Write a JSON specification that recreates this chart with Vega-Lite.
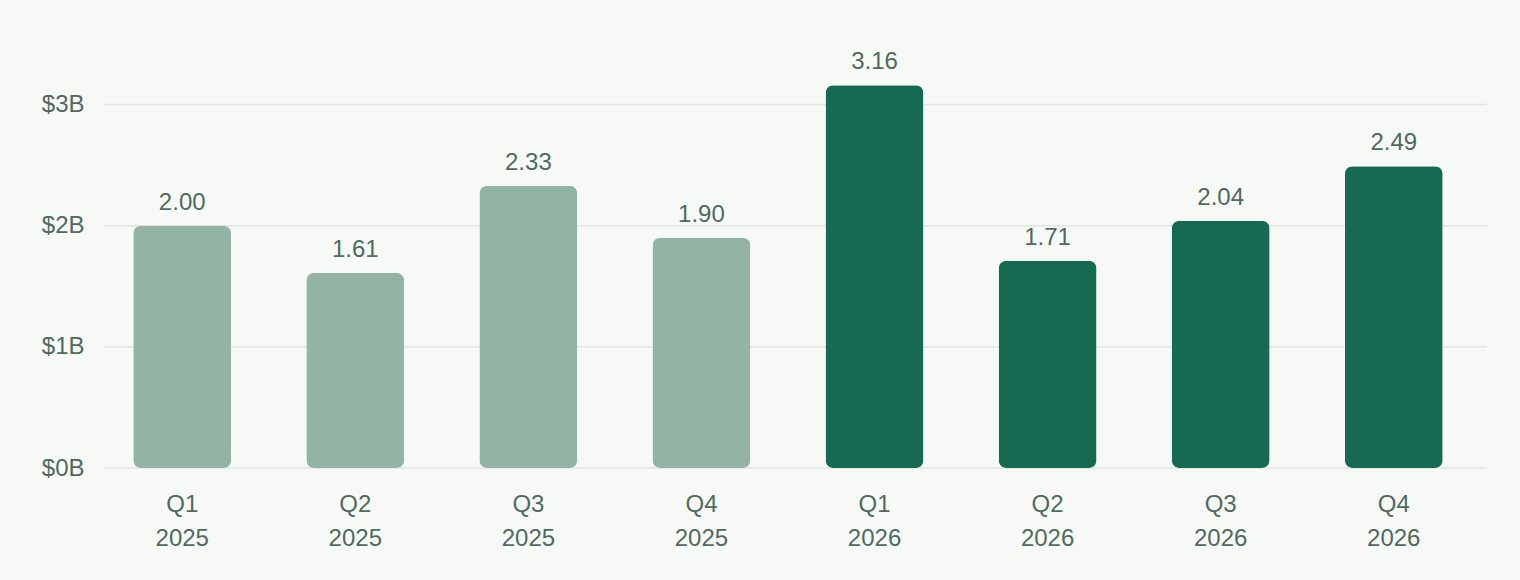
{
  "$schema": "https://vega.github.io/schema/vega-lite/v6.json",
  "width": 1383,
  "height": 424,
  "autosize": {"type": "none"},
  "padding": {"left": 104, "top": 44, "right": 33, "bottom": 112},
  "background": "#f7f9f7",
  "config": {
    "view": {"stroke": null},
    "font": "Liberation Sans",
    "axis": {"labelFont": "Liberation Sans", "labelFontSize": 24, "labelColor": "#4f6a5f"}
  },
  "data": {
    "values": [
      {"period": "Q1 2025", "year": "2025", "value": 2.00},
      {"period": "Q2 2025", "year": "2025", "value": 1.61},
      {"period": "Q3 2025", "year": "2025", "value": 2.33},
      {"period": "Q4 2025", "year": "2025", "value": 1.90},
      {"period": "Q1 2026", "year": "2026", "value": 3.16},
      {"period": "Q2 2026", "year": "2026", "value": 1.71},
      {"period": "Q3 2026", "year": "2026", "value": 2.04},
      {"period": "Q4 2026", "year": "2026", "value": 2.49}
    ]
  },
  "layer": [
    {
      "data": {"values": [{"g": 0}, {"g": 1}, {"g": 2}, {"g": 3}]},
      "mark": {"type": "rule", "color": "#dfe5e1", "strokeWidth": 1.5},
      "encoding": {
        "y": {"field": "g", "type": "quantitative", "scale": {"domain": [0, 3.5], "nice": false}}
      }
    },
    {
      "mark": {"type": "bar", "cornerRadius": 8},
      "encoding": {
        "x": {
          "field": "period",
          "type": "nominal",
          "sort": null,
          "scale": {"range": [0, 1368], "paddingInner": 0.434, "paddingOuter": 0.169},
          "axis": {
            "title": null,
            "labelAngle": 0,
            "domain": false,
            "ticks": false,
            "labelPadding": 24,
            "labelLineHeight": 34,
            "labelExpr": "split(datum.label, ' ')"
          }
        },
        "y": {
          "field": "value",
          "type": "quantitative",
          "scale": {"domain": [0, 3.5], "nice": false},
          "axis": {
            "title": null,
            "values": [0, 1, 2, 3],
            "labelExpr": "'$' + datum.value + 'B'",
            "domain": false,
            "ticks": false,
            "grid": false,
            "labelPadding": 20
          }
        },
        "color": {
          "field": "year",
          "type": "nominal",
          "scale": {"domain": ["2025", "2026"], "range": ["#93b3a5", "#176a52"]},
          "legend": null
        }
      }
    },
    {
      "mark": {"type": "text", "baseline": "alphabetic", "dy": -16, "fontSize": 24, "color": "#4f6a5f", "font": "Liberation Sans"},
      "encoding": {
        "x": {"field": "period", "type": "nominal", "sort": null},
        "y": {"field": "value", "type": "quantitative"},
        "text": {"field": "value", "type": "quantitative", "format": ".2f"}
      }
    }
  ]
}
